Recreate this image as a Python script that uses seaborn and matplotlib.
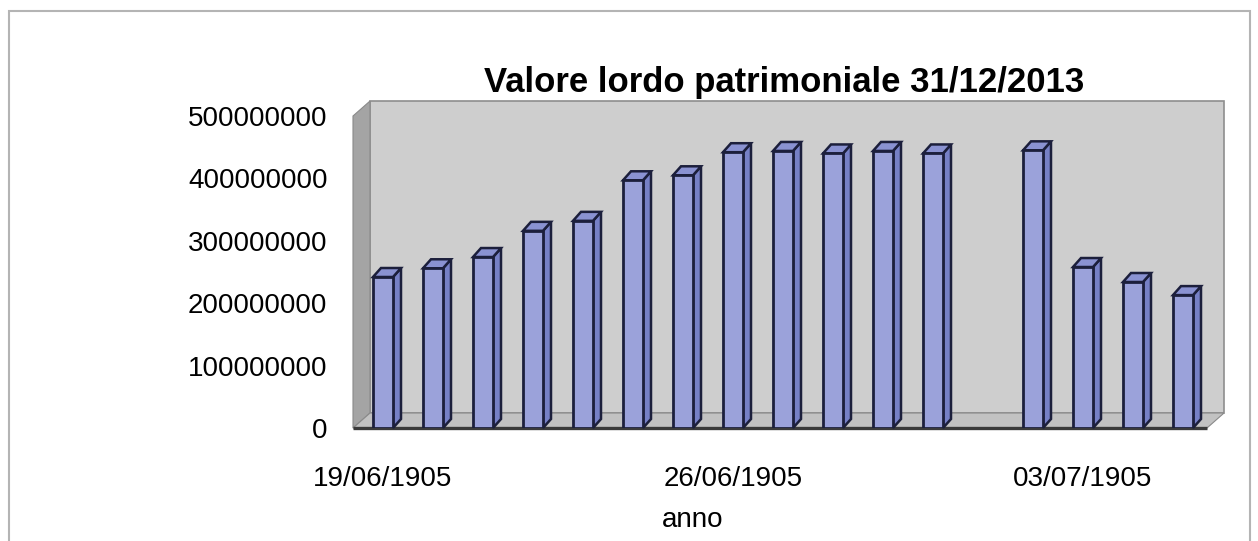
import numpy as np
import pandas as pd
import matplotlib
matplotlib.use("Agg")
import matplotlib.pyplot as plt
from matplotlib.patches import Polygon, Rectangle
import seaborn as sns

# data (one day is empty)
dates = ['19/06/1905', '20/06/1905', '21/06/1905', '22/06/1905', '23/06/1905',
         '24/06/1905', '25/06/1905', '26/06/1905', '27/06/1905', '28/06/1905',
         '29/06/1905', '30/06/1905', '01/07/1905', '02/07/1905', '03/07/1905',
         '04/07/1905', '05/07/1905']
values = [242e6, 256e6, 274e6, 316e6, 332e6, 397e6, 405e6, 442e6, 444e6,
          440e6, 444e6, 440e6, np.nan, 445e6, 258e6, 234e6, 213e6]
shown_dates = ['19/06/1905', '26/06/1905', '03/07/1905']
y_ticks = [0, 100000000, 200000000, 300000000, 400000000, 500000000]

df = pd.DataFrame({'anno': dates, 'valore': values})

sns.set_style("white")
plt.rcParams['font.family'] = ['Liberation Sans', 'DejaVu Sans']
plt.rcParams['text.color'] = 'black'
plt.rcParams['xtick.color'] = 'black'
plt.rcParams['ytick.color'] = 'black'

W, H = 1258, 541
fig = plt.figure(figsize=(W / 100, H / 100), dpi=100)
fig.patch.set_facecolor('white')

# axes = front plane of the 3d box
ax = fig.add_axes([358 / W, (H - 428) / H, 850 / W, 312 / H])
ax.set_facecolor('none')

edge = '#1C1F3C'
sns.barplot(data=df, x='anno', y='valore', order=dates, width=0.4,
            color='#9BA2DA', saturation=1, edgecolor=edge, linewidth=2.0,
            errorbar=None, ax=ax, zorder=3)
bars = list(ax.patches)

ax.set_xlim(-0.5, 16.5)
ax.set_ylim(0, 500e6)

# box: back wall, side wall, floor
ddx, ddy = 0.34, 24e6
x0, x1 = -0.6, 16.48
ax.add_patch(Polygon([(x0 + ddx, ddy), (x1 + ddx, ddy), (x1 + ddx, 500e6 + ddy),
                      (x0 + ddx, 500e6 + ddy)], closed=True, facecolor='#CECECE',
                     edgecolor='#8E8E8E', linewidth=1.2, zorder=0.5, clip_on=False))
ax.add_patch(Polygon([(x0, 0), (x0 + ddx, ddy), (x0 + ddx, 500e6 + ddy), (x0, 500e6)],
                     closed=True, facecolor='#A4A4A4', edgecolor='#8A8A8A',
                     linewidth=0.8, zorder=0.6, clip_on=False))
ax.add_patch(Polygon([(x0, 0), (x1, 0), (x1 + ddx, ddy), (x0 + ddx, ddy)], closed=True,
                     facecolor='#C2C2C2', edgecolor='#8A8A8A', linewidth=0.8,
                     zorder=0.7, clip_on=False))
ax.plot([x0, x1], [0, 0], color='#3A3A3A', linewidth=2.4, zorder=0.8,
        clip_on=False, solid_capstyle='butt')

# 3d sides and tops of the bars
bdx, bdy = 0.16, 14.4e6
for p in bars:
    h = p.get_height()
    if not np.isfinite(h) or h <= 0:
        continue
    x, w = p.get_x(), p.get_width()
    ax.add_patch(Polygon([(x + w, 0), (x + w + bdx, bdy), (x + w + bdx, h + bdy), (x + w, h)],
                         closed=True, facecolor='#7680C6', edgecolor=edge,
                         linewidth=1.8, zorder=2.9, clip_on=False))
    ax.add_patch(Polygon([(x, h), (x + bdx, h + bdy), (x + w + bdx, h + bdy), (x + w, h)],
                         closed=True, facecolor='#8A92D2', edgecolor=edge,
                         linewidth=1.8, zorder=2.9, clip_on=False))

ax.set_xticks([dates.index(d) for d in shown_dates])
ax.set_xticklabels(shown_dates, fontsize=20)
ax.set_yticks(y_ticks)
ax.set_yticklabels([str(v) for v in y_ticks], fontsize=20)
ax.tick_params(axis='x', length=0, pad=27)
ax.tick_params(axis='y', length=0, pad=22)
ax.set_xlabel('')
ax.set_ylabel('')
sns.despine(ax=ax, left=True, bottom=True)

fig.text(693 / W, 1 - 520 / H, 'anno', fontsize=20, ha='center', va='center')
fig.text(784 / W, 1 - 92 / H, 'Valore lordo patrimoniale 31/12/2013', fontsize=25,
         fontweight='bold', ha='center', va='baseline')

# thin frame round the chart area
fig.patches.append(Rectangle((9 / W, -0.05), 1241 / W, 1 - 11 / H + 0.05,
                             transform=fig.transFigure, fill=False,
                             edgecolor='#B4B4B4', linewidth=1.5, zorder=0))

fig.savefig('out.png', dpi=100, facecolor='white')
